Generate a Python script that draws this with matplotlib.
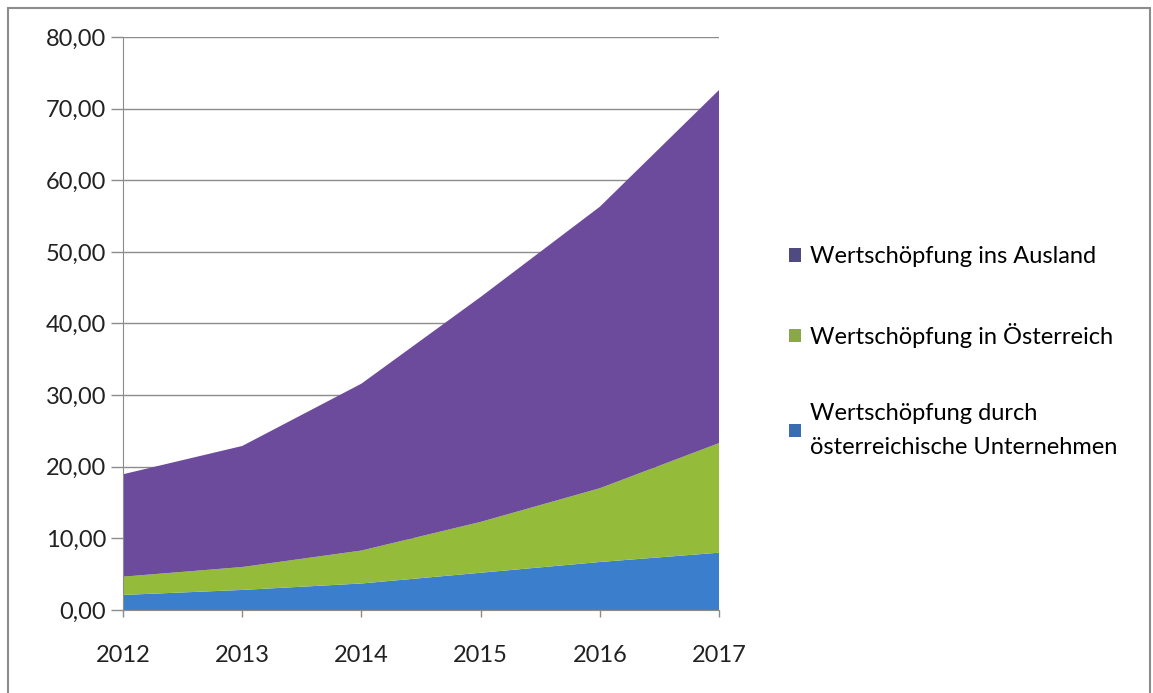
import matplotlib.pyplot as plt
from matplotlib.patches import Rectangle, Patch
from matplotlib.ticker import FuncFormatter

plt.rcParams["font.family"] = ["Lato", "DejaVu Sans"]

years = [2012, 2013, 2014, 2015, 2016, 2017]
unternehmen = [2.1, 2.8, 3.7, 5.2, 6.7, 8.0]
oesterreich = [2.55, 3.2, 4.6, 7.1, 10.3, 15.3]
ausland = [14.3, 16.9, 23.3, 31.4, 39.3, 49.3]

labels = [
    "Wertschöpfung durch\nösterreichische Unternehmen",
    "Wertschöpfung in Österreich",
    "Wertschöpfung ins Ausland",
]
fill_colors = ["#3b7fcc", "#94bb3a", "#6c4a9c"]
marker_colors = ["#3a6db0", "#8aa84a", "#4f4a80"]

fig = plt.figure(figsize=(11.53, 6.93), dpi=100)
fig.patches.append(Rectangle((0.007, -0.01), 0.99, 0.998, transform=fig.transFigure,
                             fill=False, edgecolor="#8c8c8c", linewidth=1.5))
ax = fig.add_axes([0.1067, 0.1198, 0.5169, 0.8268])

ax.stackplot(years, unternehmen, oesterreich, ausland, colors=fill_colors, linewidth=0)

ax.set_xlim(2012, 2017)
ax.set_ylim(0, 80)
ax.set_yticks(range(0, 81, 10))
ax.yaxis.set_major_formatter(FuncFormatter(lambda v, p: f"{v:.2f}".replace(".", ",")))
ax.set_xticks(years)
ax.grid(axis="y", color="#8c8c8c", linewidth=1)
ax.set_axisbelow(True)
for side in ["top", "right"]:
    ax.spines[side].set_visible(False)
ax.spines["left"].set_color("#8c8c8c")
ax.spines["bottom"].set_color("#8c8c8c")
ax.tick_params(axis="both", colors="#8c8c8c", labelcolor="#222222", labelsize=17,
               length=9, width=1)
ax.tick_params(axis="y", pad=3)
ax.tick_params(axis="x", length=5, pad=20)

handles = [Patch(facecolor=c) for c in marker_colors][::-1]
leg = fig.legend(handles, labels[::-1], loc="center left", bbox_to_anchor=(0.666, 0.492),
                 frameon=False, fontsize=17, handlelength=0.5, handleheight=0.5,
                 handletextpad=0.4, labelspacing=2.35)
for t in leg.get_texts():
    t.set_linespacing(1.75)

fig.savefig("out.png", dpi=100)
